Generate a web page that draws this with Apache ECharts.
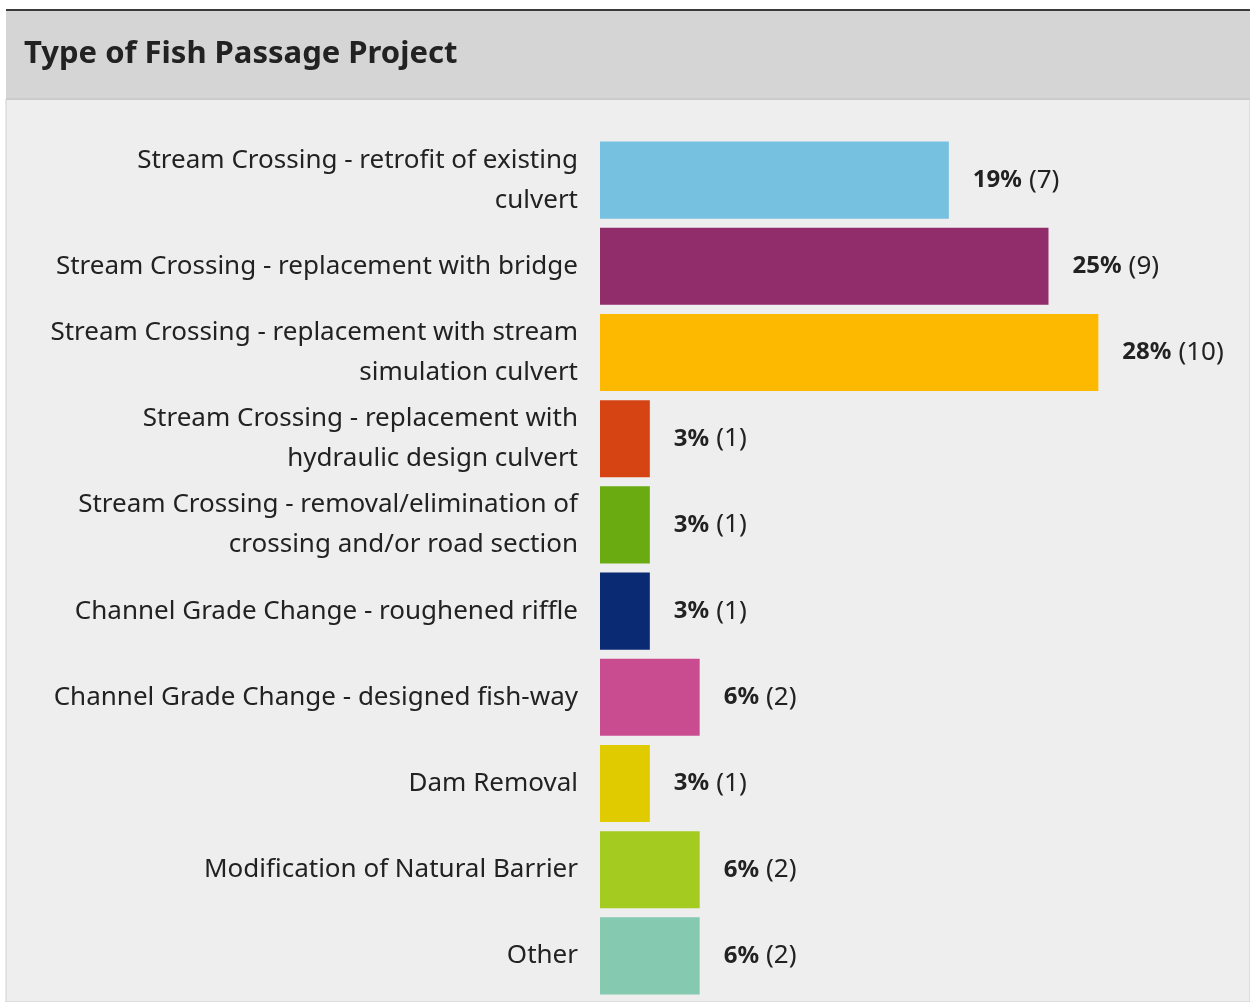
<!DOCTYPE html>
<html><head><meta charset="utf-8">
<script src="https://cdn.jsdelivr.net/npm/echarts@6/dist/echarts.min.js"></script>
<style>html,body{margin:0;padding:0;background:#fff}#c{width:1250px;height:1002px}</style>
</head><body><div id="c"></div>
<script>
const titleText = "Type of Fish Passage Project";
const categories = [
  "Stream Crossing - retrofit of existing\nculvert",
  "Stream Crossing - replacement with bridge",
  "Stream Crossing - replacement with stream\nsimulation culvert",
  "Stream Crossing - replacement with\nhydraulic design culvert",
  "Stream Crossing - removal/elimination of\ncrossing and/or road section",
  "Channel Grade Change - roughened riffle",
  "Channel Grade Change - designed fish-way",
  "Dam Removal",
  "Modification of Natural Barrier",
  "Other"
];
const counts = [7, 9, 10, 1, 1, 1, 2, 1, 2, 2];
const percents = ["19%", "25%", "28%", "3%", "3%", "3%", "6%", "3%", "6%", "6%"];
const colors = ["#76c0e0", "#922d6b", "#fdb900", "#d64414", "#6aab12", "#0b2a74", "#c94c91", "#dfcb00", "#a4cb1f", "#85c9b0"];

const FONT = "'Noto Sans', sans-serif";
const chart = echarts.init(document.getElementById('c'), null, {renderer: 'canvas'});
chart.setOption({
  backgroundColor: '#ffffff',
  animation: false,
  graphic: [
    {type: 'rect', z: -10, shape: {x: 6, y: 99, width: 1244, height: 903}, style: {fill: '#eeeeee', stroke: '#cfcfcf', lineWidth: 1}},
    {type: 'rect', z: -9, shape: {x: 6, y: 10, width: 1244, height: 89}, style: {fill: '#d5d5d5'}},
    {type: 'rect', z: -8, shape: {x: 6, y: 98, width: 1244, height: 2}, style: {fill: '#cbcbcb'}},
    {type: 'rect', z: -8, shape: {x: 6, y: 9, width: 1244, height: 2}, style: {fill: '#3a3a3a'}}
  ],
  title: {
    text: titleText, left: 19, top: 34,
    textStyle: {fontFamily: FONT, fontSize: 31, fontWeight: 'bold', color: '#222'}
  },
  grid: {left: 600, top: 137, width: 598, height: 862, containLabel: false},
  xAxis: {type: 'value', min: 0, max: 12, show: false},
  yAxis: {
    type: 'category', data: categories, inverse: true,
    axisLine: {show: false}, axisTick: {show: false},
    axisLabel: {margin: 22, fontFamily: FONT, fontSize: 26, lineHeight: 40, color: '#222', align: 'right'}
  },
  series: [{
    type: 'bar', data: counts.map((v, i) => ({value: v, itemStyle: {color: colors[i]}})),
    barCategoryGap: '10.5%',
    label: {
      show: true, position: 'right', distance: 24,
      formatter: p => '{b|' + percents[p.dataIndex] + '}{n|(' + counts[p.dataIndex] + ')}',
      rich: {
        b: {fontFamily: FONT, fontSize: 24, fontWeight: 'bold', color: '#222'},
        n: {fontFamily: FONT, fontSize: 26, color: '#222', padding: [0, 0, 0, 7]}
      }
    }
  }]
});
</script></body></html>
